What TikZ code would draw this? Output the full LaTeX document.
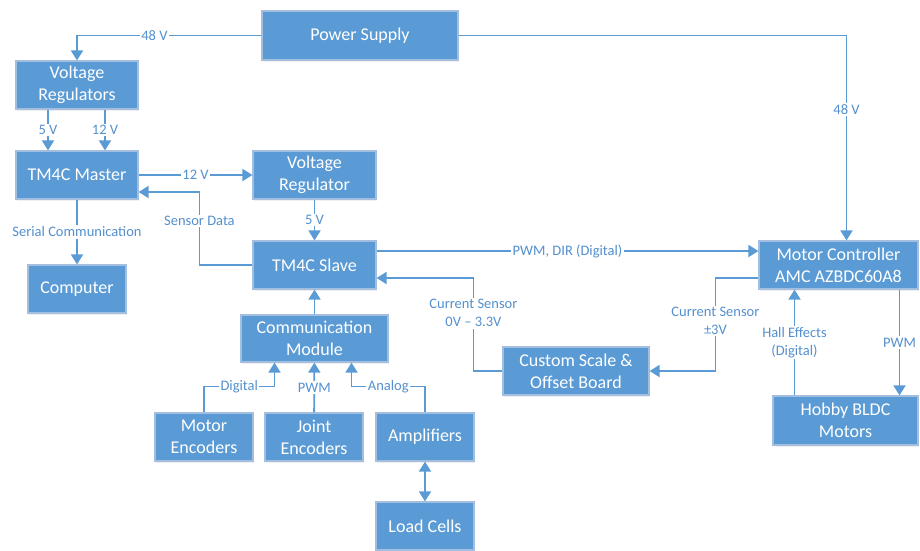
\documentclass[tikz,border=0pt]{standalone}
\usepackage{fontspec}
\setmainfont{Carlito}
\usetikzlibrary{arrows.meta,shadows}
\definecolor{blk}{HTML}{5B9BD5}
\definecolor{blkedge}{HTML}{A4BEDF}
\definecolor{lbltext}{HTML}{5490CE}

\begin{document}
\begin{tikzpicture}[x=1pt,y=-1pt,
    blkbox/.style={draw=blkedge,line width=1.2pt,fill=blk,text=white,align=center,
      minimum height=48pt,inner sep=0pt,font=\fontsize{18}{22}\selectfont,
      drop shadow={opacity=0.12,shadow xshift=1pt,shadow yshift=-2pt}},
    link/.style={draw=blk,line width=1.8pt,-{Triangle[length=10pt,width=12pt]}},
    twoway/.style={draw=blk,line width=1.8pt,{Triangle[length=10pt,width=12pt]}-{Triangle[length=10pt,width=12pt]}},
    lbl/.style={fill=white,text=lbltext,inner sep=1.5pt,align=center,font=\fontsize{14.5}{18}\selectfont}]
    \useasboundingbox (0,0) rectangle (920,550);

    \node[blkbox,minimum width=196pt,minimum height=49pt] (ps) at (360,35.5) {Power Supply};
    \node[blkbox,minimum width=122pt] (vregs) at (77,85) {Voltage\\Regulators};
    \node[blkbox,minimum width=122pt] (master) at (77,175) {TM4C Master};
    \node[blkbox,minimum width=98pt] (comp) at (77,289) {Computer};
    \node[blkbox,minimum width=123pt] (vreg) at (314.5,175) {Voltage\\Regulator};
    \node[blkbox,minimum width=123pt] (slave) at (314.5,265) {TM4C Slave};
    \node[blkbox,minimum width=147pt,minimum height=47pt] (comm) at (314.5,338.5) {Communication\\Module};
    \node[blkbox,minimum width=98pt] (menc) at (204,437) {Motor\\Encoders};
    \node[blkbox,minimum width=98pt] (jenc) at (314,437) {Joint\\Encoders};
    \node[blkbox,minimum width=98pt] (amps) at (425,437) {Amplifiers};
    \node[blkbox,minimum width=98pt] (cells) at (425,526) {Load Cells};
    \node[blkbox,minimum width=146pt] (scale) at (576,371) {Custom Scale \&\\Offset Board};
    \node[blkbox,minimum width=159pt] (mc) at (838.5,265) {Motor Controller\\AMC AZBDC60A8};
    \node[blkbox,minimum width=145pt,minimum height=49pt] (bldc) at (845.5,420.5) {Hobby BLDC\\Motors};

    \draw[link] (ps.west) -| node[lbl,pos=0.29]{48 V} (vregs.north);
    \draw[link] (ps.east) -| node[lbl,pos=0.68]{48 V} ([xshift=8pt]mc.north);
    \draw[link] ([xshift=-29pt]vregs.south) -- node[lbl]{5 V} ([xshift=-29pt]master.north);
    \draw[link] ([xshift=28pt]vregs.south) -- node[lbl]{12 V} ([xshift=28pt]master.north);
    \draw[link] (master) -- node[lbl]{12 V} (vreg);
    \draw[link] (master) -- node[lbl]{Serial Communication} (comp);
    \draw[link] (vreg) -- node[lbl]{5 V} (slave);
    \draw[link] (slave.west) -- ++(-53,0) |- node[lbl,pos=0.3]{Sensor Data} ([yshift=-17pt]master.east);
    \draw[link] ([yshift=14pt]slave.east) -- node[lbl]{PWM, DIR (Digital)} ([yshift=14pt]mc.west);
    \draw[link] (scale.west) -- ++(-29,0) |- node[lbl,pos=0.31]{Current Sensor\\0V -- 3.3V} ([yshift=-13pt]slave.east);
    \draw[link] ([yshift=-13pt]mc.west) -- ++(-43,0) |- node[lbl,pos=0.23]{Current Sensor\\±3V} (scale.east);
    \draw[link] ([xshift=-51pt]bldc.north) -- node[lbl]{Hall Effects\\(Digital)} ([xshift=-51pt]bldc.north |- mc.south);
    \draw[link] ([xshift=54pt]bldc.north |- mc.south) -- node[lbl]{PWM} ([xshift=54pt]bldc.north);
    \draw[link] (comm) -- (slave);
    \draw[link] (menc.north) -- ++(0,-26) -| node[lbl,pos=0.25]{Digital} ([xshift=-40pt]comm.south);
    \draw[link] (jenc) -- node[lbl]{PWM} (comm);
    \draw[link] (amps.north) -- ++(0,-26) -| node[lbl,pos=0.25]{Analog} ([xshift=37pt]comm.south);
    \draw[twoway] (amps) -- (cells);
\end{tikzpicture}
\end{document}
